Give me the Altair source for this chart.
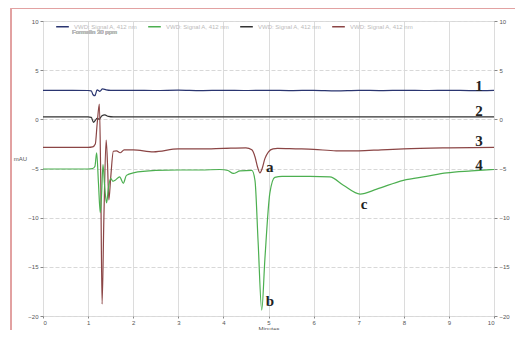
import altair as alt
import pandas as pd

# ---- data ----
t1_x = [0, 0.5, 1.0, 1.07, 1.11, 1.15, 1.2, 1.26, 1.32, 1.4, 1.5, 2.0, 2.5, 3.0, 3.5, 4.0, 4.5, 5.0, 5.5, 6.0, 6.5, 7.0, 7.5, 8.0, 8.5, 9.0, 9.5, 10]
t1_y = [2.95, 2.95, 2.93, 2.9, 2.5, 2.4, 3.0, 2.85, 3.1, 3.0, 2.95, 2.95, 2.93, 2.97, 2.92, 2.95, 2.93, 2.95, 2.92, 2.95, 2.9, 2.95, 2.92, 2.95, 2.93, 2.95, 2.92, 2.95]

t2_x = [0, 0.5, 1.0, 1.07, 1.12, 1.16, 1.2, 1.25, 1.3, 1.37, 1.45, 1.56, 2, 3, 4, 5, 6, 7, 8, 9, 10]
t2_y = [0.25, 0.25, 0.25, 0.2, -0.3, -0.1, 0.1, 0.0, 0.35, 0.45, 0.3, 0.25, 0.25, 0.25, 0.25, 0.25, 0.25, 0.25, 0.25, 0.25, 0.25]

t3_x = [0, 0.5, 1.0, 1.1, 1.16, 1.2, 1.25, 1.28, 1.31, 1.35, 1.4, 1.43, 1.46, 1.5, 1.56, 1.63, 1.71, 1.8, 2.0, 2.45, 3.0, 3.5, 4.0, 4.5, 4.63, 4.7, 4.76, 4.81, 4.86, 4.92, 5.0, 5.1, 5.2, 5.6, 6.0, 6.5, 7.0, 7.5, 8.0, 9.0, 10]
t3_y = [-2.85, -2.85, -2.85, -2.8, -2.5, -0.5, 1.55, -6, -18.8, -10, -2.1, -4.5, -8.2, -6, -3.25, -3.2, -3.4, -3.1, -3.1, -3.3, -3.0, -3.0, -2.95, -2.9, -3.1, -3.8, -4.9, -5.45, -5.0, -4.0, -3.3, -3.0, -2.95, -3.0, -3.05, -3.2, -3.2, -3.1, -3.0, -2.9, -2.85]

t4_x = [0, 0.5, 1.0, 1.1, 1.15, 1.19, 1.23, 1.27, 1.3, 1.33, 1.37, 1.41, 1.45, 1.5, 1.55, 1.6, 1.7, 1.78, 1.85, 2.0, 2.5, 3.0, 3.5, 3.92, 4.1, 4.22, 4.37, 4.63, 4.7, 4.77, 4.85, 4.92, 5.03, 5.14, 5.3, 5.92, 6.36, 6.66, 7.03, 7.4, 7.99, 8.5, 8.95, 9.5, 10]
t4_y = [-5.05, -5.05, -5.05, -5.0, -4.8, -3.4, -6.5, -9.5, -7.5, -4.6, -7.0, -8.5, -7.0, -6.0, -6.3, -6.2, -5.85, -6.5, -5.7, -5.45, -5.2, -5.15, -5.15, -5.1, -5.2, -5.5, -5.25, -5.2, -6.2, -12.5, -19.4, -14.2, -7.5, -5.9, -5.8, -5.8, -5.85, -6.7, -7.6, -7.1, -6.2, -5.8, -5.45, -5.25, -5.1]

series_order = ["s1", "s4", "s2", "s3"]
series_colors = ["#2a3570", "#4caf50", "#333333", "#8b4545"]

ann_text = ["1", "2", "3", "4", "a", "b", "c"]
ann_x = [9.67, 9.67, 9.67, 9.67, 5.03, 5.03, 7.12]
ann_y = [3.35, 0.84, -2.17, -4.61, -4.85, -18.5, -8.65]

y_ticks = [-20, -15, -10, -5, 0, 5, 10]
x_ticks = list(range(0, 11))

rows = []
for name, xs, ys in [("s1", t1_x, t1_y), ("s2", t2_x, t2_y), ("s3", t3_x, t3_y), ("s4", t4_x, t4_y)]:
    for i, (a, b) in enumerate(zip(xs, ys)):
        rows.append({"series": name, "t": a, "v": b, "i": i})
df = pd.DataFrame(rows)
ann = pd.DataFrame({"label": ann_text, "t": ann_x, "v": ann_y})

xscale = alt.Scale(domain=[0, 10], nice=False, zero=False)
yscale = alt.Scale(domain=[-20, 10], nice=False, zero=False)

lines = alt.Chart(df).mark_line(strokeWidth=1.2, interpolate="monotone").encode(
    x=alt.X("t:Q", scale=xscale, axis=alt.Axis(
        values=x_ticks, title="Minutes", labelFontSize=6, labelColor="#555",
        titleFontSize=6, titleFontWeight="normal", titleColor="#555", titlePadding=0,
        tickSize=2, tickColor="#888", domain=False, grid=True, gridColor="#dcdcdc", labelPadding=1)),
    y=alt.Y("v:Q", scale=yscale, axis=alt.Axis(
        values=y_ticks, title="mAU", titleAngle=0, titleFontSize=6, titleFontWeight="normal",
        titleColor="#555", titleX=-23, titleY=137, titleAlign="center", titleBaseline="middle",
        labelFontSize=6, labelColor="#555", tickSize=3, tickColor="#888", domain=False,
        grid=True, gridColor="#d8d8d8", gridDash=[4, 2], labelPadding=2)),
    color=alt.Color("series:N", scale=alt.Scale(domain=series_order, range=series_colors),
                    legend=alt.Legend(orient="none", legendX=12, legendY=-2, direction="horizontal",
                                      columns=4, title=None, symbolType="stroke", symbolSize=160,
                                      symbolStrokeWidth=1.5, labelFontSize=6, labelColor="#bbbbbb",
                                      labelExpr="'VWD: Signal A, 412 nm'", columnPadding=7,
                                      labelOffset=4)),
    order="i:Q",
)

labels = alt.Chart(ann).mark_text(font="Liberation Serif", fontWeight="bold", fontSize=15,
                                  color="#222", baseline="middle", align="center").encode(
    x=alt.X("t:Q", scale=xscale),
    y=alt.Y("v:Q", scale=yscale, axis=alt.Axis(
        values=y_ticks, orient="right", title=None, labelFontSize=6, labelColor="#555",
        tickSize=3, tickColor="#888", domain=False, grid=False, labelPadding=2)),
    text="label:N",
)

formalin = alt.Chart(ann).mark_text(fontSize=6, color="#bbbbbb", align="left", baseline="middle").encode(
    x=alt.value(29), y=alt.value(11), text=alt.value("Formalin 30 ppm"))

border_left = alt.Chart(ann).mark_rule(color="#e2a2a2", strokeWidth=1.2).encode(
    x=alt.value(-32), y=alt.value(-12.5), y2=alt.value(320))
border_top = alt.Chart(ann).mark_rule(color="#e2a2a2", strokeWidth=1.2).encode(
    x=alt.value(-32), x2=alt.value(480), y=alt.value(-12.5))

chart = alt.layer(lines, labels, formalin, border_left, border_top).resolve_axis(y="independent").properties(
    width=451, height=295,
    autosize=alt.AutoSizeParams(type="none"),
    padding={"left": 35, "top": 13, "right": 21, "bottom": 14},
).configure_view(stroke="#555555", strokeWidth=1).configure(background="white")

chart.save("out.html", embed_options={"renderer": "svg", "actions": False})
